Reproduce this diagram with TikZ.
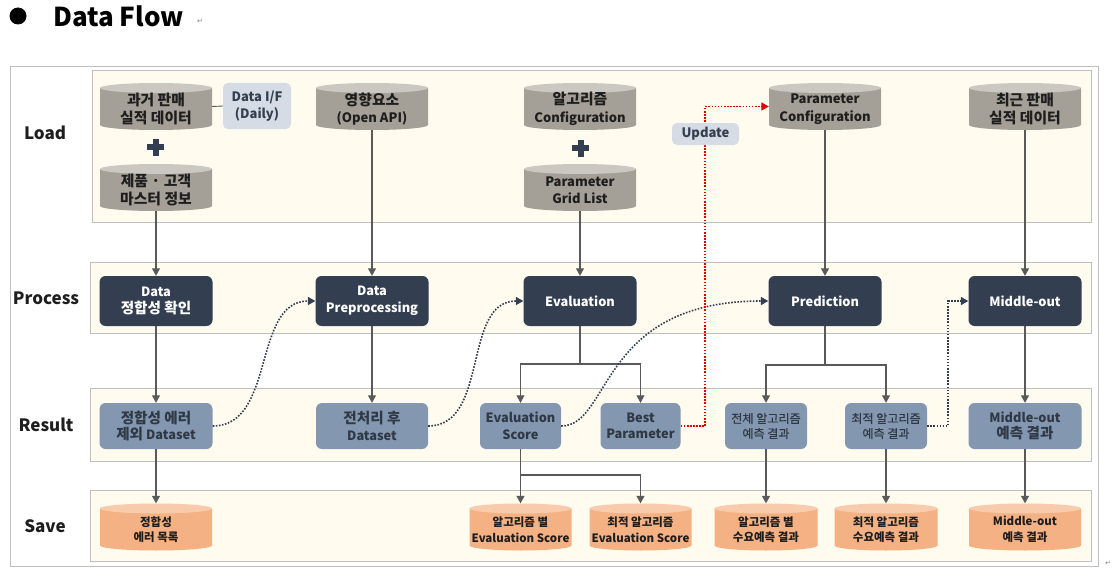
\documentclass[tikz,border=0pt]{standalone}
\usepackage{fontspec}
\usepackage{graphicx}
\setmainfont{Noto Sans CJK KR}
\newfontfamily\krsemi[Scale=1.14,FakeBold=0.6]{Noto Sans CJK KR}
\newfontfamily\symfont{DejaVu Sans}
\newcommand\K[1]{\scalebox{1.14}{#1}}
\usetikzlibrary{arrows.meta,calc}
\definecolor{bandfill}{HTML}{FFFBEF}
\definecolor{bandline}{HTML}{BFBFBF}
\definecolor{framel}{HTML}{BFBFBF}
\definecolor{procfill}{HTML}{333F50}
\definecolor{resfill}{HTML}{8497B0}
\definecolor{restext}{HTML}{2F3946}
\definecolor{tagfill}{HTML}{D6DCE5}
\definecolor{loadbody}{HTML}{A5A097}
\definecolor{loadtop}{HTML}{CBC7C1}
\definecolor{savebody}{HTML}{F4B183}
\definecolor{savetop}{HTML}{F8CBAD}
\definecolor{connc}{HTML}{595959}
\definecolor{navy}{HTML}{333F50}
\definecolor{upred}{HTML}{E00000}
\definecolor{txtc}{HTML}{1E1E1E}
% name, cx, cy, half width, kind, text
\newcommand\dbcyl[6]{%
  \fill[#5body] (#2-#4,#3+18.5) -- (#2-#4,#3-18.5) arc[start angle=180,end angle=360,x radius=#4pt,y radius=5pt] -- (#2+#4,#3+18.5) -- cycle;
  \fill[#5top] (#2,#3+18.5) ellipse[x radius=#4pt,y radius=5pt];
  \node[minimum width=2*#4pt, minimum height=47pt, inner sep=0pt] (#1) at (#2,#3) {};
  \node[#5txt] (#1-t) at (#2,#3-2.5) {#6};
}
\begin{document}
\begin{tikzpicture}[x=1pt,y=1pt,
  band/.style={fill=bandfill, draw=bandline, line width=0.9pt},
  lbl/.style={font=\bfseries\fontsize{17}{20}\selectfont, text=txtc},
  loadtxt/.style={align=center, inner sep=0pt, text=txtc, font=\bfseries\fontsize{13}{17.5}\selectfont},
  savetxt/.style={align=center, inner sep=0pt, text=txtc, font=\bfseries\fontsize{11.5}{15.5}\selectfont},
  proc/.style={rounded corners=6pt, fill=procfill, text=white, align=center, inner sep=0pt, minimum width=113pt, minimum height=50pt, font=\bfseries\fontsize{12.8}{17}\selectfont},
  res/.style={rounded corners=6pt, fill=resfill, text=restext, align=center, inner sep=0pt, minimum height=46pt, font=\bfseries\fontsize{12.8}{16.5}\selectfont},
  ressmall/.style={res, font=\krsemi\fontsize{10.6}{15}\selectfont},
  tag/.style={rounded corners=5pt, fill=tagfill, text=navy, align=center, inner sep=0pt, font=\bfseries\fontsize{13}{17}\selectfont},
  conn/.style={draw=connc, line width=1.1pt, -{Triangle[width=8pt,length=7.5pt]}},
  dotc/.style={draw=navy, line width=1.6pt, dash pattern=on 1.6pt off 1.5pt, -{Triangle[width=8pt,length=7.5pt]}},
  redc/.style={draw=upred, line width=1.6pt, dash pattern=on 1.6pt off 1.5pt, -{Triangle[width=8pt,length=7.5pt]}},
  retmark/.style={font=\symfont\fontsize{7}{8}\selectfont, text=gray, inner sep=0pt}
]
\useasboundingbox (0,0) rectangle (1120,-578);
% title
\fill[black] (18,-16) circle (8.5pt);
\node[anchor=west, inner sep=0pt, font=\bfseries\fontsize{26}{30}\selectfont] (title) at (53,-16) {Data Flow};
\node[retmark, anchor=west] (ret1) at (197,-21) {↵};
% frame and bands
\draw[draw=framel, line width=0.9pt, fill=white] (10,-66) rectangle (1098,-566);
\draw[band] (92,-70) rectangle (1091,-222);
\draw[band] (90,-262) rectangle (1091,-333);
\draw[band] (90,-388) rectangle (1091,-461);
\draw[band] (90,-490) rectangle (1091,-561);
\node[retmark] (ret2) at (1108,-563) {↵};
% lane labels
\node[lbl] (lload) at (45,-133) {Load};
\node[lbl] (lproc) at (46,-298) {Process};
\node[lbl] (lres) at (46,-425) {Result};
\node[lbl] (lsave) at (45,-526) {Save};
% load
\dbcyl{past}{156}{-106.5}{56}{load}{\K{과거 판매}\\\K{실적 데이터}}
\node[tag, minimum width=68pt, minimum height=46pt] (dif) at (257,-106) {Data I/F\\(Daily)};
\fill[navy] (147,-144) rectangle (164,-150);
\fill[navy] (152.5,-138.5) rectangle (158.5,-155.5);
\dbcyl{master}{156}{-187.5}{56}{load}{\K{제품 · 고객}\\\K{마스터 정보}}
\dbcyl{ext}{372}{-106.5}{56}{load}{\K{영향요소}\\(Open API)}
\dbcyl{algcfg}{580}{-106.5}{56}{load}{\K{알고리즘}\\Configuration}
\fill[navy] (572,-145) rectangle (589,-151);
\fill[navy] (577.5,-139.5) rectangle (583.5,-156.5);
\dbcyl{grid}{580}{-187.5}{56}{load}{Parameter\\Grid List}
\dbcyl{pcfg}{825}{-106.5}{56}{load}{Parameter\\Configuration}
\dbcyl{recent}{1025}{-106.5}{56}{load}{\K{최근 판매}\\\K{실적 데이터}}
% process
\node[proc] (pcheck) at (156,-301) {Data\\\K{정합성 확인}};
\node[proc] (prep) at (372,-301) {Data\\Preprocessing};
\node[proc] (eval) at (580,-301) {Evaluation};
\node[proc] (pred) at (825,-301) {Prediction};
\node[proc] (mid) at (1025,-301) {Middle-out};
% result
\node[res, minimum width=113pt] (r1) at (156,-426) {\K{정합성 에러}\\\K{제외} Dataset};
\node[res, minimum width=112pt] (r2) at (372,-426) {\K{전처리 후}\\Dataset};
\node[res, minimum width=81pt] (r3) at (520.5,-426) {Evaluation\\Score};
\node[res, minimum width=80pt] (r4) at (640.5,-426) {Best\\Parameter};
\node[ressmall, minimum width=82pt] (r5) at (766,-426) {전체 알고리즘\\예측 결과};
\node[ressmall, minimum width=82pt] (r6) at (886,-426) {최적 알고리즘\\예측 결과};
\node[res, minimum width=113pt] (r7) at (1025,-426) {Middle-out\\\K{예측 결과}};
% save
\dbcyl{s1}{156}{-527}{56}{save}{정합성\\에러 목록}
\dbcyl{s2}{520.5}{-527}{51}{save}{알고리즘 별\\Evaluation Score}
\dbcyl{s3}{640.5}{-527}{51}{save}{최적 알고리즘\\Evaluation Score}
\dbcyl{s4}{766}{-527}{51.5}{save}{알고리즘 별\\수요예측 결과}
\dbcyl{s5}{886}{-527}{51.5}{save}{최적 알고리즘\\수요예측 결과}
\dbcyl{s6}{1025}{-527}{56}{save}{Middle-out\\예측 결과}
% junctions
\coordinate (evj) at (580,-364);
\coordinate (pdj) at (825,-365);
\coordinate (esj) at (520.5,-475);
% connectors
\draw[connc, line width=0.9pt] (past.east) -- (dif.west);
\draw[conn] (master.south) -- (pcheck.north);
\draw[conn] (ext.south) -- (prep.north);
\draw[conn] (grid.south) -- (eval.north);
\draw[conn] (pcfg.south) -- (pred.north);
\draw[conn] (recent.south) -- (mid.north);
\draw[conn] (pcheck.south) -- (r1.north);
\draw[conn] (prep.south) -- (r2.north);
\draw[conn] (eval.south) -- (evj) -| (r3.north);
\draw[conn] (evj) -| (r4.north);
\draw[conn] (pred.south) -- (pdj) -| (r5.north);
\draw[conn] (pdj) -| (r6.north);
\draw[conn] (mid.south) -- (r7.north);
\draw[conn] (r1.south) -- (s1.north);
\draw[conn] (r3.south) -- (s2.north);
\draw[conn] (esj) -| (s3.north);
\draw[conn] (r5.south) -- (s4.north);
\draw[conn] (r6.south) -- (s5.north);
\draw[conn] (r7.south) -- (s6.north);
% dotted flows
\draw[dotc] (r1.east) to[out=0,in=180] (prep.west);
\draw[dotc] (r2.east) to[out=0,in=180] (eval.west);
\draw[dotc] (r3.east) .. controls +(50,0) and +(-170,0) .. (pred.west);
\draw[dotc] (r6.east) -- ++(21,0) |- (mid.west);
\draw[redc] (r4.east) -- ++(24.5,0) |- (pcfg.west);
\node[tag, minimum width=67pt, minimum height=22pt] (upd) at (705.5,-134) {Update};
\end{tikzpicture}
\end{document}
